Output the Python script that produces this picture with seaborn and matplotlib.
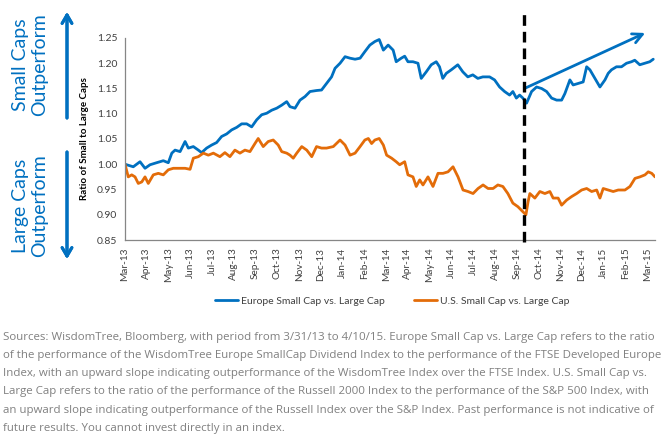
import numpy as np
import pandas as pd
import matplotlib
matplotlib.use("Agg")
import matplotlib.pyplot as plt
import seaborn as sns

# months elapsed since 31-Mar-2013 (x) and small/large cap ratio (y)
europe_months = [0.00, 0.38, 0.69, 0.92, 1.15, 1.45, 1.76, 1.99, 2.15, 2.30, 2.53, 2.76, 2.91,
                 3.14, 3.37, 3.52, 3.75, 3.98, 4.21, 4.44, 4.67, 4.90, 5.13, 5.36, 5.59, 5.82,
                 6.05, 6.28, 6.51, 6.74, 6.97, 7.20, 7.43, 7.58, 7.81, 8.04, 8.27, 8.50, 8.80,
                 9.03, 9.26, 9.49, 9.65, 9.88, 10.11, 10.34, 10.57, 10.80, 11.02, 11.25, 11.48,
                 11.68, 11.87, 12.09, 12.32, 12.46, 12.69, 12.85, 13.00, 13.23, 13.46, 13.61,
                 13.84, 14.07, 14.30, 14.45, 14.60, 14.76, 14.99, 15.29, 15.52, 15.75, 15.98,
                 16.21, 16.44, 16.75, 16.98, 17.21, 17.44, 17.67, 17.82, 17.98, 18.13, 18.28,
                 18.45, 18.68, 18.91, 19.14, 19.37, 19.60, 19.83, 20.06, 20.21, 20.44, 20.59,
                 20.82, 21.05, 21.21, 21.36, 21.59, 21.82, 22.05, 22.20, 22.35, 22.58, 22.81,
                 23.04, 23.27, 23.42, 23.65, 23.88, 24.11, 24.27]
europe_ratio = [1.000, 0.995, 1.005, 0.992, 0.999, 1.003, 1.007, 1.003, 1.022, 1.028, 1.025, 1.045, 1.032,
                1.035, 1.028, 1.023, 1.032, 1.038, 1.043, 1.055, 1.060, 1.068, 1.073, 1.080, 1.080, 1.074,
                1.088, 1.098, 1.101, 1.107, 1.111, 1.117, 1.124, 1.114, 1.111, 1.127, 1.134, 1.144, 1.146,
                1.147, 1.160, 1.173, 1.190, 1.200, 1.213, 1.210, 1.208, 1.210, 1.223, 1.236, 1.243,
                1.247, 1.226, 1.236, 1.226, 1.203, 1.210, 1.214, 1.203, 1.203, 1.200, 1.170,
                1.183, 1.197, 1.203, 1.193, 1.170, 1.180, 1.187, 1.197, 1.183, 1.173, 1.177,
                1.170, 1.173, 1.173, 1.167, 1.153, 1.144, 1.137, 1.144, 1.131, 1.137, 1.131,
                1.121, 1.144, 1.153, 1.150, 1.144, 1.131, 1.127, 1.127, 1.140, 1.167, 1.157,
                1.160, 1.163, 1.193, 1.187, 1.170, 1.153, 1.167, 1.180, 1.187, 1.193, 1.193,
                1.200, 1.203, 1.206, 1.197, 1.200, 1.203, 1.208]

us_months = [0.00, 0.15, 0.31, 0.46, 0.61, 0.77, 0.92, 1.07, 1.30, 1.53, 1.76, 1.99, 2.22, 2.53,
             2.76, 2.99, 3.14, 3.37, 3.60, 3.83, 4.06, 4.36, 4.59, 4.82, 5.05, 5.28, 5.51, 5.74,
             5.97, 6.12, 6.35, 6.58, 6.81, 7.04, 7.20, 7.43, 7.58, 7.73, 7.89, 8.12, 8.35, 8.58,
             8.80, 9.03, 9.26, 9.57, 9.88, 10.11, 10.34, 10.57, 10.80, 11.02, 11.18, 11.33, 11.48,
             11.68, 11.87, 12.02, 12.25, 12.46, 12.62, 12.85, 13.00, 13.23, 13.38, 13.54, 13.69,
             13.92, 14.15, 14.38, 14.61, 14.84, 15.07, 15.30, 15.53, 15.76, 15.99, 16.22, 16.45,
             16.68, 16.91, 17.13, 17.36, 17.59, 17.82, 18.05, 18.28, 18.42, 18.52, 18.60, 18.83,
             19.06, 19.29, 19.52, 19.67, 19.90, 20.06, 20.29, 20.52, 20.75, 20.98, 21.21, 21.44,
             21.67, 21.82, 21.97, 22.20, 22.43, 22.66, 22.97, 23.20, 23.43, 23.66, 23.89, 24.04,
             24.20, 24.35]
us_ratio = [1.000, 0.975, 0.979, 0.975, 0.962, 0.965, 0.975, 0.962, 0.979, 0.982, 0.979, 0.989, 0.992, 0.992,
            0.992, 0.990, 1.012, 1.015, 1.022, 1.018, 1.022, 1.015, 1.023, 1.015, 1.028, 1.022, 1.028, 1.025,
            1.041, 1.051, 1.035, 1.045, 1.048, 1.038, 1.025, 1.022, 1.018, 1.012, 1.022, 1.035, 1.028, 1.015,
            1.035, 1.032, 1.032, 1.035, 1.048, 1.038, 1.018, 1.022, 1.035, 1.048, 1.051, 1.041, 1.048,
            1.051, 1.038, 1.018, 1.012, 1.005, 0.999, 1.005, 0.979, 0.975, 0.956, 0.969, 0.959,
            0.975, 0.956, 0.982, 0.982, 0.985, 0.995, 0.975, 0.949, 0.946, 0.942, 0.952, 0.959,
            0.952, 0.952, 0.959, 0.956, 0.942, 0.923, 0.916, 0.906, 0.900, 0.926, 0.942, 0.933,
            0.946, 0.942, 0.946, 0.933, 0.933, 0.919, 0.929, 0.936, 0.942, 0.949, 0.952, 0.946,
            0.949, 0.933, 0.952, 0.949, 0.946, 0.949, 0.949, 0.956, 0.972, 0.975, 0.979, 0.985,
            0.982, 0.975]

series_names = ["Europe Small Cap vs. Large Cap", "U.S. Small Cap vs. Large Cap"]
month_labels = ["Mar-13", "Apr-13", "May-13", "Jun-13", "Jul-13", "Aug-13", "Sep-13", "Oct-13",
                "Nov-13", "Dec-13", "Jan-14", "Feb-14", "Mar-14", "Apr-14", "May-14", "Jun-14",
                "Jul-14", "Aug-14", "Sep-14", "Oct-14", "Nov-14", "Dec-14", "Jan-15", "Feb-15",
                "Mar-15"]
y_ticks = [0.85, 0.90, 0.95, 1.00, 1.05, 1.10, 1.15, 1.20, 1.25]
turn_point = 18.34  # the dashed marker (mid Sep-14)
trend_start = (18.4, 1.151)
trend_end = (23.9, 1.260)

footer_lines = [
    "Sources: WisdomTree, Bloomberg, with period from 3/31/13 to 4/10/15. Europe Small Cap vs. Large Cap refers to the ratio",
    "of the performance of the WisdomTree Europe SmallCap Dividend Index to the performance of the FTSE Developed Europe",
    "Index, with an upward slope indicating outperformance of the WisdomTree Index over the FTSE Index. U.S. Small Cap vs.",
    "Large Cap refers to the ratio of the performance of the Russell 2000 Index to the performance of the S&P 500 Index, with",
    "an upward slope indicating outperformance of the Russell Index over the S&P Index. Past performance is not indicative of",
    "future results. You cannot invest directly in an index.",
]

BLUE = "#0070C0"
ORANGE = "#E36C09"

df = pd.concat([
    pd.DataFrame({"month": europe_months, "ratio": europe_ratio, "series": series_names[0]}),
    pd.DataFrame({"month": us_months, "ratio": us_ratio, "series": series_names[1]}),
], ignore_index=True)

sns.set_style("white")
plt.rcParams["font.family"] = ["Lato", "DejaVu Sans"]

fig = plt.figure(figsize=(6.7, 4.48), dpi=100)
ax = fig.add_axes([125 / 670, 1 - 240 / 448, 530 / 670, 202 / 448])

sns.lineplot(data=df, x="month", y="ratio", hue="series", hue_order=series_names,
             palette=[BLUE, ORANGE], linewidth=2.0, estimator=None, ax=ax, legend=False)

ax.set_xlim(0, 24.35)
ax.set_ylim(0.85, 1.25)
ax.set_xticks(range(len(month_labels)))
ax.set_xticklabels(month_labels, rotation=90, fontsize=7.2, color="#404040")
ax.set_yticks(y_ticks)
ax.set_yticklabels([f"{v:.2f}" for v in y_ticks], fontsize=7.5, color="#404040")
ax.tick_params(axis="both", direction="out", length=3.5, width=0.8, color="#868686", pad=2)
for side in ["top", "right"]:
    ax.spines[side].set_visible(False)
for side in ["left", "bottom"]:
    ax.spines[side].set_color("#868686")
    ax.spines[side].set_linewidth(0.9)
ax.set_xlabel("")
ax.set_ylabel("Ratio of Small to Large Caps", fontsize=7, fontweight="bold", color="black", labelpad=6)

# dashed marker and trend arrow
ax.plot([turn_point, turn_point], [0.846, 1.306], ls=(0, (3.2, 1.8)), color="black", lw=2.4,
        clip_on=False, zorder=5)
ax.annotate("", xy=trend_end, xytext=trend_start, annotation_clip=False,
            arrowprops=dict(arrowstyle="->,head_length=0.7,head_width=0.35", color=BLUE, lw=2.0,
                            shrinkA=0, shrinkB=0))

# side labels with arrows
for cy, label in [(1 - 65 / 448, "Small Caps\nOutperform"), (1 - 206 / 448, "Large Caps\nOutperform")]:
    fig.text(30 / 670, cy, label, rotation=90, ha="center", va="center", color=BLUE,
             fontsize=14, linespacing=1.15)
fig.add_artist(plt.annotate("", xy=(67 / 670, 1 - 12 / 448), xytext=(67 / 670, 1 - 118 / 448),
                            xycoords="figure fraction", textcoords="figure fraction",
                            arrowprops=dict(arrowstyle="->,head_length=0.6,head_width=0.35",
                                            color=BLUE, lw=2.2, shrinkA=0, shrinkB=0)))
fig.add_artist(plt.annotate("", xy=(67 / 670, 1 - 259 / 448), xytext=(67 / 670, 1 - 152 / 448),
                            xycoords="figure fraction", textcoords="figure fraction",
                            arrowprops=dict(arrowstyle="->,head_length=0.6,head_width=0.35",
                                            color=BLUE, lw=2.2, shrinkA=0, shrinkB=0)))

handles = [plt.Line2D([], [], color=c, lw=2.0) for c in [BLUE, ORANGE]]
fig.legend(handles, series_names, loc="center", bbox_to_anchor=(392 / 670, 1 - 301 / 448),
           ncol=2, frameon=False, fontsize=7.5, handlelength=2.2, handletextpad=0.3,
           columnspacing=2.8, labelcolor="#404040")

for i, line in enumerate(footer_lines):
    fig.text(3 / 670, 1 - (337 + i * 18.3) / 448, line, ha="left", va="center",
             fontsize=8.25, color="#808080", family=["Open Sans", "DejaVu Sans"])

fig.savefig("out.png", dpi=100)
